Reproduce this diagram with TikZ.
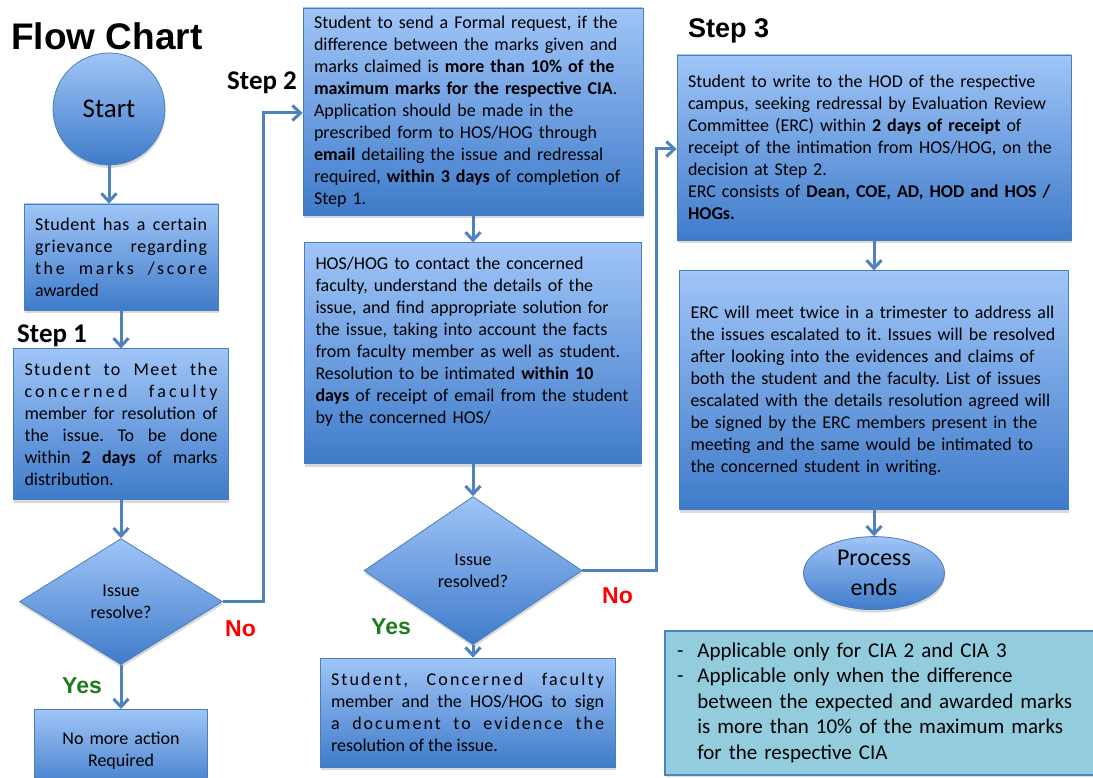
\documentclass[tikz,border=0pt]{standalone}
\usepackage{fontspec}
\setmainfont{Carlito}
\newfontfamily\arialfont{Liberation Sans}
\usepackage{tikz}
\usetikzlibrary{shapes, arrows.meta, positioning, calc, shadows}
\definecolor{fcboxtop}{HTML}{A0C5F7}
\definecolor{fcboxbot}{HTML}{3F7BCA}
\definecolor{fcline}{HTML}{4A7EBB}
\definecolor{fcarrow}{HTML}{4F81BD}
\definecolor{fcnote}{HTML}{93CDDD}
\definecolor{fcyes}{HTML}{1E7B1E}
\definecolor{fcno}{HTML}{FF0000}
\newcommand{\spreadline}[2]{{\addfontfeature{LetterSpace=#1}#2}}

\begin{document}
\frenchspacing
\begin{tikzpicture}[x=1pt, y=-1pt,
      fcshade/.style={draw=fcline, line width=0.8pt, top color=fcboxtop, bottom color=fcboxbot,
        drop shadow={opacity=0.3, shadow xshift=0.5pt, shadow yshift=-3pt}},
      box/.style={rectangle, fcshade, inner xsep=11pt, inner ysep=0pt, align=left,
        font=\fontsize{18}{22}\selectfont},
      decision/.style={diamond, fcshade, inner sep=0pt, align=center, font=\fontsize{18}{22}\selectfont},
      steplbl/.style={anchor=base west, inner sep=0pt, font=\bfseries\fontsize{27}{32}\selectfont},
      yeslbl/.style={anchor=base west, inner sep=0pt, text=fcyes, font=\arialfont\bfseries\fontsize{23}{27}\selectfont},
      nolbl/.style={anchor=base west, inner sep=0pt, text=fcno, font=\arialfont\bfseries\fontsize{23}{27}\selectfont},
      arr/.style={-{Straight Barb[length=8pt, width=15pt]}, line width=3pt, fcarrow}
    ]
      \useasboundingbox (0,0) rectangle (1093,778);

      \node[anchor=base west, inner sep=0pt, font=\arialfont\bfseries\fontsize{37}{44}\selectfont] (title) at (11,50) {Flow Chart};

      % step 1
      \node[circle, fcshade, minimum size=112pt, inner sep=0pt, font=\fontsize{27}{32}\selectfont] (start) at (109,109) {Start};
      \node[box, align=justify, text width=172pt, minimum height=106pt] (grieve) at (121,257)
        {\spreadline{3}{Student has a certain}\linebreak
         \spreadline{5}{grievance regarding}\linebreak
         \spreadline{15}{the marks /score}\linebreak
         awarded};
      \node[steplbl] (step1) at (17,342) {Step 1};
      \node[box, align=justify, text width=193pt, minimum height=151pt, below=38pt of grieve] (meet)
        {\spreadline{8}{Student to Meet the}\linebreak
         \spreadline{18}{concerned faculty}\linebreak
         member for resolution of\linebreak
         the issue. To be done\linebreak
         within \textbf{2 days} of marks\linebreak
         distribution.};
      \node[decision, minimum width=203pt, minimum height=126pt, below=38pt of meet] (dec1) {Issue\\resolve?};
      \node[box, align=center, text width=151pt, minimum height=82pt, below=44pt of dec1] (noaction) {No more action\\Required};
      \node[yeslbl] (yes1) at (62,693) {Yes};
      \node[nolbl] (no1) at (225,636) {No};

      % step 2
      \node[steplbl] (step2) at (227,90) {Step 2};
      \node[box, text width=318pt, minimum height=207pt] (req) at (473,111.5)
        {Student to send a Formal request, if the\\
         difference between the marks given and\\
         marks claimed is \textbf{more than 10\% of the}\\
         \textbf{maximum marks for the respective CIA}.\\
         Application should be made in the\\
         prescribed form to HOS/HOG through\\
         \textbf{email} detailing the issue and redressal\\
         required, \textbf{within 3 days} of completion of\\
         Step 1.};
      \node[box, text width=315pt, minimum height=221pt, below=27pt of req] (hos)
        {HOS/HOG to contact the concerned\\
         faculty, understand the details of the\\
         issue, and find appropriate solution for\\
         the issue, taking into account the facts\\
         from faculty member as well as student.\\
         Resolution to be intimated \textbf{within 10}\\
         \textbf{days} of receipt of email from the student\\
         by the concerned HOS/\\
         \rule{0pt}{22pt}};
      \node[decision, minimum width=218pt, minimum height=148pt, below=32pt of hos] (dec2) {Issue\\resolved?};
      \node[box, align=justify, text width=273pt, minimum height=109pt] (sign) at (467.5,712.5)
        {\spreadline{12}{Student, Concerned faculty}\linebreak
         member and the HOS/HOG to sign\linebreak
         \spreadline{11}{a document to evidence the}\linebreak
         resolution of the issue.};
      \node[yeslbl] (yes2) at (371,634) {Yes};
      \node[nolbl] (no2) at (602,603) {No};

      % step 3
      \node[anchor=base west, inner sep=0pt, font=\arialfont\bfseries\fontsize{27}{32}\selectfont] (step3) at (688,38) {Step 3};
      \node[box, text width=372pt, minimum height=185pt] (write) at (874,147.5)
        {Student to write to the HOD of the respective\\
         campus, seeking redressal by Evaluation Review\\
         Committee (ERC) within \textbf{2 days of receipt} of\\
         receipt of the intimation from HOS/HOG, on the\\
         decision at Step 2.\\
         ERC consists of \textbf{Dean, COE, AD, HOD and HOS /}\\
         \textbf{HOGs.}};
      \node[box, text width=367pt, minimum height=239pt, below=30pt of write] (erc)
        {ERC will meet twice in a trimester to address all\\
         the issues escalated to it. Issues will be resolved\\
         after looking into the evidences and claims of\\
         both the student and the faculty. List of issues\\
         escalated with the details resolution agreed will\\
         be signed by the ERC members present in the\\
         meeting and the same would be intimated to\\
         the concerned student in writing.};
      \node[ellipse, fcshade, minimum width=141pt, minimum height=73pt, inner sep=0pt, align=center,
        font=\fontsize{24}{30}\selectfont, below=26pt of erc] (ends) {Process\\ends};

      \node[rectangle, fill=fcnote, draw=fcarrow, line width=1.2pt, text width=406pt, inner xsep=12pt,
        minimum height=144pt, align=left,
        drop shadow={opacity=0.25, shadow xshift=0.5pt, shadow yshift=-2pt},
        font=\fontsize{21}{25.5}\selectfont] (note) at (880,703)
        {\begin{tabular}{@{}l@{\hspace{14pt}}l@{}}
          - & Applicable only for CIA 2 and CIA 3\\
          - & Applicable only when the difference\\
            & between the expected and awarded marks\\
            & is more than 10\% of the maximum marks\\
            & for the respective CIA
         \end{tabular}};

      \coordinate (turn1) at (263,113);
      \coordinate (turn2) at (656,149);

      \draw[arr] (start) -- (start |- grieve.north);
      \draw[arr] (grieve) -- (meet);
      \draw[arr] (meet) -- (dec1);
      \draw[arr] (dec1) -- (noaction);
      \draw[arr] (dec1.east) -| (turn1) -- (turn1 -| req.west);
      \draw[arr] (req) -- (hos);
      \draw[arr] (hos) -- (dec2);
      \draw[arr] (dec2) -- (dec2 |- sign.north);
      \draw[arr] (dec2.east) -| (turn2) -- (turn2 -| write.west);
      \draw[arr] (write) -- (erc);
      \draw[arr] (erc) -- (ends);
    \end{tikzpicture}
\end{document}
